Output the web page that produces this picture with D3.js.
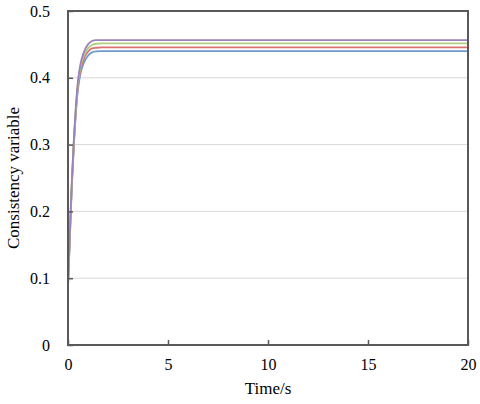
<!DOCTYPE html>
<html>
<head>
<meta charset="utf-8">
<script src="https://cdn.jsdelivr.net/npm/d3@7"></script>
<style>
  body { margin: 0; background: #fff; }
  text { font-family: "Liberation Serif", "Times New Roman", serif; fill: #000; }
</style>
</head>
<body>
<div id="chart"></div>
<script>
// time samples (s)
var times = [0, 0.05, 0.1, 0.15, 0.2, 0.3, 0.4, 0.5, 0.6, 0.8, 1.0, 1.2, 1.4, 1.7, 2.0, 20];

// consistency variable per agent
var seriesBlue   = [0.086, 0.125, 0.165, 0.205, 0.243, 0.303, 0.350, 0.383, 0.403, 0.423, 0.433, 0.438, 0.4395, 0.440, 0.440, 0.440];
var seriesRed    = [0.089, 0.128, 0.168, 0.208, 0.246, 0.306, 0.354, 0.388, 0.408, 0.429, 0.439, 0.444, 0.445, 0.4455, 0.4455, 0.4455];
var seriesGreen  = [0.092, 0.131, 0.171, 0.211, 0.249, 0.309, 0.357, 0.392, 0.413, 0.434, 0.444, 0.449, 0.451, 0.4515, 0.4515, 0.4515];
var seriesPurple = [0.095, 0.134, 0.174, 0.214, 0.252, 0.312, 0.361, 0.396, 0.417, 0.439, 0.450, 0.455, 0.4565, 0.4565, 0.4565, 0.4565];

var xTicks = [0, 5, 10, 15, 20];
var yTicks = [0, 0.1, 0.2, 0.3, 0.4, 0.5];

var series = [
  {name: "blue",   color: "#6f98cf", values: seriesBlue},
  {name: "red",    color: "#d9736f", values: seriesRed},
  {name: "green",  color: "#b1cf7f", values: seriesGreen},
  {name: "purple", color: "#9a83bb", values: seriesPurple}
];

var margin = {top: 11, right: 12, bottom: 59, left: 68},
    width = 480 - margin.left - margin.right,
    height = 404 - margin.top - margin.bottom;

var x = d3.scaleLinear().domain([0, 20]).range([0, width]);
var y = d3.scaleLinear().domain([0, 0.5]).range([height, 0]);

var svg = d3.select("#chart")
  .append("svg")
    .attr("width", 480)
    .attr("height", 404)
  .append("g")
    .attr("transform", "translate(" + margin.left + "," + margin.top + ")");

// gridlines
svg.selectAll(".grid")
  .data(yTicks.slice(1, -1))
  .enter().append("line")
    .attr("x1", 0).attr("x2", width)
    .attr("y1", function(d) { return y(d); })
    .attr("y2", function(d) { return y(d); })
    .style("stroke", "#d9d9d9")
    .style("stroke-width", 1);

// lines
var line = d3.line()
  .x(function(d, i) { return x(times[i]); })
  .y(function(d) { return y(d); })
  .curve(d3.curveMonotoneX);

svg.selectAll(".series")
  .data(series)
  .enter().append("path")
    .attr("d", function(s) { return line(s.values); })
    .style("fill", "none")
    .style("stroke", function(s) { return s.color; })
    .style("stroke-width", 1.8);

// axes
var xAxis = d3.axisBottom(x).tickValues(xTicks).tickSizeInner(-5).tickSizeOuter(0).tickPadding(14);
var yAxis = d3.axisLeft(y).tickValues(yTicks).tickSizeInner(-5).tickSizeOuter(0).tickPadding(18)
  .tickFormat(function(d) { return d === 0 ? "0" : d3.format(".1f")(d); });

svg.append("g")
  .attr("class", "axis")
  .attr("transform", "translate(0," + height + ")")
  .call(xAxis);

svg.append("g")
  .attr("class", "axis")
  .call(yAxis);

svg.selectAll(".axis .domain").remove();
svg.selectAll(".axis line").style("stroke", "#595959").style("stroke-width", 1.5);
svg.selectAll(".axis text").style("font-size", "16px").style("font-family", "Liberation Serif");

// frame
svg.append("rect")
  .attr("width", width)
  .attr("height", height)
  .style("fill", "none")
  .style("stroke", "#595959")
  .style("stroke-width", 2);

// labels
svg.append("text")
  .attr("text-anchor", "middle")
  .attr("x", width / 2)
  .attr("y", height + 49)
  .style("font-size", "17px")
  .text("Time/s");

svg.append("text")
  .attr("text-anchor", "middle")
  .attr("transform", "translate(" + (-49) + "," + (height / 2) + ") rotate(-90)")
  .style("font-size", "17px")
  .text("Consistency variable");
</script>
</body>
</html>
